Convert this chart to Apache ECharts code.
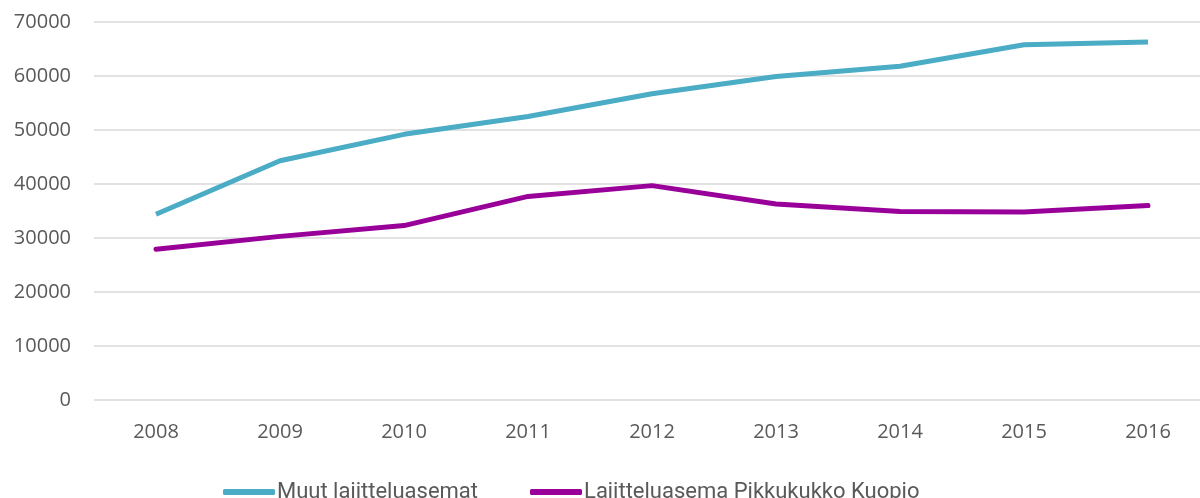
<!DOCTYPE html>
<html>
<head>
<meta charset="utf-8">
<script src="https://cdn.jsdelivr.net/npm/echarts@6/dist/echarts.min.js"></script>
<style>
  html, body { margin: 0; padding: 0; background: #fff; }
  #chart { width: 1200px; height: 498px; }
</style>
</head>
<body>
<div id="chart"></div>
<script>
const years = ['2008', '2009', '2010', '2011', '2012', '2013', '2014', '2015', '2016'];
const muut = [34400, 44300, 49200, 52500, 56700, 59900, 61800, 65800, 66300];
const pikkukukko = [27900, 30300, 32300, 37700, 39700, 36300, 34900, 34800, 36000];

const chart = echarts.init(document.getElementById('chart'));
const option = {
  animation: false,
  grid: {
    left: 94,
    top: 22,
    width: 1116,
    height: 378,
    outerBoundsMode: 'none'
  },
  legend: {
    left: 218,
    top: 476,
    itemWidth: 52,
    itemHeight: 6,
    itemGap: 52,
    icon: 'roundRect',
    textStyle: {
      fontFamily: 'Roboto',
      fontSize: 22,
      color: '#595959',
      padding: [0, 0, 0, -3]
    },
    data: ['Muut lajitteluasemat', 'Lajitteluasema Pikkukukko Kuopio']
  },
  xAxis: {
    type: 'category',
    data: years,
    boundaryGap: true,
    axisLine: { show: false },
    axisTick: { show: false },
    axisLabel: {
      margin: 22,
      fontFamily: 'Open Sans',
      fontSize: 20,
      color: '#595959'
    }
  },
  yAxis: {
    type: 'value',
    min: 0,
    max: 70000,
    interval: 10000,
    axisLine: { show: false },
    axisTick: { show: false },
    axisLabel: {
      margin: 23,
      fontFamily: 'Open Sans',
      fontSize: 20,
      color: '#595959',
      formatter: function (v) { return String(v); }
    },
    splitLine: { lineStyle: { color: '#d9d9d9', width: 1.5 } }
  },
  series: [
    {
      name: 'Muut lajitteluasemat',
      type: 'line',
      data: muut,
      symbol: 'none',
      color: '#4bacc6',
      lineStyle: { width: 5, color: '#4bacc6', cap: 'butt' }
    },
    {
      name: 'Lajitteluasema Pikkukukko Kuopio',
      type: 'line',
      data: pikkukukko,
      symbol: 'none',
      color: '#990099',
      lineStyle: { width: 5, color: '#990099', cap: 'round' }
    }
  ]
};
chart.setOption(option);
</script>
</body>
</html>
